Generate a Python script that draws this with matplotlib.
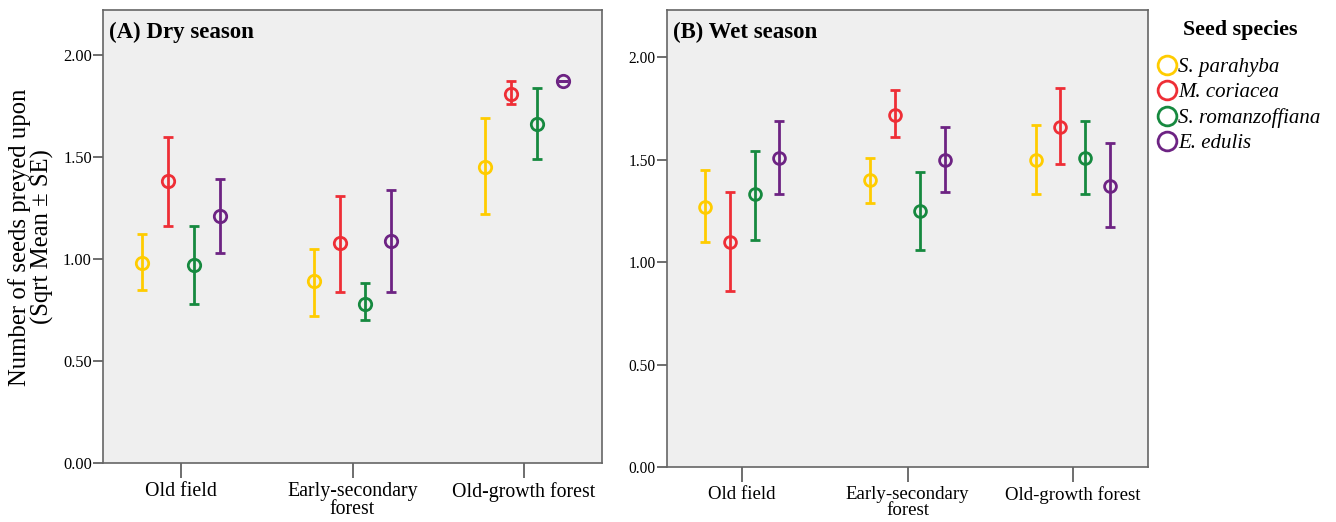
import matplotlib.pyplot as plt
from matplotlib.lines import Line2D
import numpy as np

# habitats on the x axis, species as offset series
habitats = ["Old field", "Early-secondary\nforest", "Old-growth forest"]
species = ["S. parahyba", "M. coriacea", "S. romanzoffiana", "E. edulis"]
colors = ["#FFCC00", "#EE2E36", "#16893F", "#6D2383"]

# (A) dry season: mean, lower, upper  (per species, per habitat)
dry_mean = [[0.98, 0.89, 1.45],
            [1.38, 1.08, 1.81],
            [0.97, 0.78, 1.66],
            [1.21, 1.09, 1.87]]
dry_low = [[0.85, 0.72, 1.22],
           [1.16, 0.84, 1.76],
           [0.78, 0.70, 1.49],
           [1.03, 0.84, 1.87]]
dry_high = [[1.12, 1.05, 1.69],
            [1.60, 1.31, 1.87],
            [1.16, 0.88, 1.84],
            [1.39, 1.34, 1.87]]

# (B) wet season
wet_mean = [[1.27, 1.40, 1.50],
            [1.10, 1.72, 1.66],
            [1.33, 1.25, 1.51],
            [1.51, 1.50, 1.37]]
wet_low = [[1.10, 1.29, 1.33],
           [0.86, 1.61, 1.48],
           [1.11, 1.06, 1.33],
           [1.33, 1.34, 1.17]]
wet_high = [[1.45, 1.51, 1.67],
            [1.34, 1.84, 1.85],
            [1.54, 1.44, 1.69],
            [1.69, 1.66, 1.58]]

offsets = [-0.225, -0.075, 0.075, 0.225]

plt.rcParams['font.family'] = ['Liberation Serif', 'DejaVu Serif']

fig = plt.figure(figsize=(13.36, 5.22), dpi=100)
ax1 = fig.add_axes([103 / 1336, 59 / 522, 499 / 1336, 453 / 522])
ax2 = fig.add_axes([667 / 1336, 55 / 522, 481 / 1336, 457 / 522])


def draw_panel(ax, mean, low, high, title, ylim_top, k):
    x = np.arange(len(habitats))
    for i in range(len(species)):
        m = np.array(mean[i])
        lo = m - np.array(low[i])
        hi = np.array(high[i]) - m
        ax.errorbar(x + offsets[i], m, yerr=[lo, hi], fmt='o', color=colors[i],
                    mfc='none', mec=colors[i], ms=8.5 * k, mew=2.0,
                    elinewidth=2.0, capsize=3.5, capthick=2.0)
    ax.set_facecolor("#EFEFEF")
    ax.set_xlim(-0.455, 2.455)
    ax.set_ylim(0, ylim_top)
    ax.set_xticks(x)
    ax.set_xticklabels(habitats, fontsize=13.6 * k, linespacing=0.92)
    ax.set_yticks([0, 0.5, 1.0, 1.5, 2.0])
    ax.set_yticklabels(["0.00", "0.50", "1.00", "1.50", "2.00"],
                       fontsize=11.2 * k)
    ax.tick_params(axis='x', length=11, width=1.2, color="#555555", pad=3)
    ax.tick_params(axis='y', length=7, width=1.2, color="#555555", pad=1)
    for s in ax.spines.values():
        s.set_color("#666666")
        s.set_linewidth(1.2)
    ax.text(0.012, 0.975, title, transform=ax.transAxes, ha='left', va='top',
            fontsize=16.5, fontweight='bold')


draw_panel(ax1, dry_mean, dry_low, dry_high, "(A) Dry season", 2.22, 1.05)
draw_panel(ax2, wet_mean, wet_low, wet_high, "(B) Wet season", 2.23, 1.0)

fig.text(31 / 1336, (522 - 237) / 522,
         "Number of seeds preyed upon\n(Sqrt Mean \u00b1 SE)",
         rotation=90, ha='center', va='center', fontsize=17.8, linespacing=0.95)

fig.text(1240 / 1336, (522 - 30) / 522, "Seed species", ha='center',
         va='center', fontsize=15.8, fontweight='bold')

handles = [Line2D([], [], ls='none', marker='o', ms=13.5, mfc='none',
                  mec=c, mew=2.0) for c in colors]
leg = fig.legend(handles, species, loc='upper left',
                 bbox_to_anchor=(1149 / 1336, (522 - 49) / 522), frameon=False,
                 handlelength=0.9, handletextpad=0.1,
                 labelspacing=0.28, borderaxespad=0,
                 prop={'style': 'italic', 'size': 15})

fig.savefig("out.png", dpi=100)
